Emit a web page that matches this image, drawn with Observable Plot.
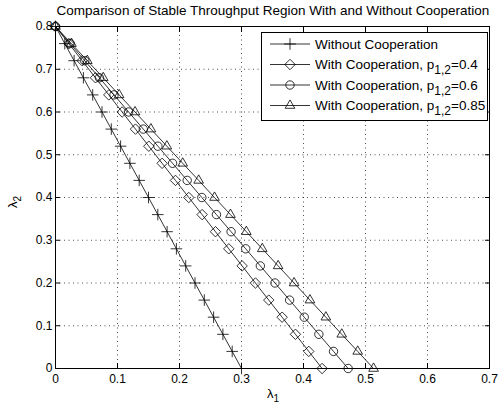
<!DOCTYPE html>
<html>
<head>
<meta charset="utf-8">
<script src="https://cdn.jsdelivr.net/npm/d3@7"></script>
<script src="https://cdn.jsdelivr.net/npm/@observablehq/plot@0.6"></script>
<style>
  html, body { margin: 0; padding: 0; background: white; }
  #chart { width: 499px; height: 412px; }
</style>
</head>
<body>
<div id="chart"></div>
<script>
// ---- data ----
const titleText = "Comparison of Stable Throughput Region With and Without Cooperation";
const seriesNames = [
  "Without Cooperation",
  "With Cooperation, p12=0.4",
  "With Cooperation, p12=0.6",
  "With Cooperation, p12=0.85"
];
const seriesValueLabels = ["", "0.4", "0.6", "0.85"];
const lambda2 = [0.80, 0.76, 0.72, 0.68, 0.64, 0.60, 0.56, 0.52, 0.48, 0.44, 0.40,
                 0.36, 0.32, 0.28, 0.24, 0.20, 0.16, 0.12, 0.08, 0.04, 0.00];
const lambda1NoCoop = [0.000, 0.015, 0.030, 0.045, 0.060, 0.075, 0.090, 0.105, 0.120, 0.135, 0.150,
                       0.165, 0.180, 0.195, 0.210, 0.225, 0.240, 0.255, 0.270, 0.285, 0.300];
const lambda1P04 = [0.000, 0.0215, 0.043, 0.0645, 0.086, 0.1075, 0.129, 0.1505, 0.172, 0.1935, 0.215,
                    0.2365, 0.258, 0.2795, 0.301, 0.3225, 0.344, 0.3655, 0.387, 0.4085, 0.430];
const lambda1P06 = [0.000, 0.0236, 0.0472, 0.0708, 0.0944, 0.118, 0.1416, 0.1652, 0.1888, 0.2124, 0.236,
                    0.2596, 0.2832, 0.3068, 0.3304, 0.354, 0.3776, 0.4012, 0.4248, 0.4484, 0.472];
const lambda1P085 = [0.000, 0.0257, 0.0513, 0.077, 0.1026, 0.1283, 0.1539, 0.1796, 0.2052, 0.2309, 0.2565,
                     0.2822, 0.3078, 0.3335, 0.3591, 0.3848, 0.4104, 0.4361, 0.4617, 0.4874, 0.513];
const xTicks = [0, 0.1, 0.2, 0.3, 0.4, 0.5, 0.6, 0.7];
const yTicks = [0, 0.1, 0.2, 0.3, 0.4, 0.5, 0.6, 0.7, 0.8];

// ---- build table ----
const seriesX = [lambda1NoCoop, lambda1P04, lambda1P06, lambda1P085];
const symbols = ["plus", "diamond2", "circle", "triangle2"];
const d3symbols = [d3.symbolPlus, d3.symbolDiamond2, d3.symbolCircle, d3.symbolTriangle2];
const radii = [3.8, 4.7, 4.2, 4.6];
const series = seriesX.map((xs, i) => xs.map((x, j) => ({x, y: lambda2[j], s: i})));

const FONT = "'Liberation Sans', Arial, Helvetica, sans-serif";
const fmt = d => d === 0 ? "0" : String(+d.toFixed(1));

const marks = [
  Plot.gridX(xTicks, {stroke: "black", strokeOpacity: 0.7, strokeDasharray: "1,3.5"}),
  Plot.gridY(yTicks, {stroke: "black", strokeOpacity: 0.7, strokeDasharray: "1,3.5"}),
  Plot.frame({stroke: "black", strokeWidth: 1}),
  Plot.axisX(xTicks, {anchor: "bottom", tickSize: -5, tickPadding: 11, tickFormat: fmt, fontSize: 12, label: null}),
  Plot.axisX(xTicks, {anchor: "top", tickSize: -5, tickFormat: () => "", label: null}),
  Plot.axisY(yTicks, {anchor: "left", tickSize: -5, tickPadding: 8, tickFormat: fmt, fontSize: 12, label: null}),
  Plot.axisY(yTicks, {anchor: "right", tickSize: -5, tickFormat: () => "", label: null})
];
series.forEach((d, i) => {
  marks.push(Plot.line(d, {x: "x", y: "y", stroke: "black", strokeWidth: 0.8}));
  marks.push(Plot.dot(d, {x: "x", y: "y", symbol: symbols[i], r: radii[i], stroke: "black", fill: "none", strokeWidth: 0.8}));
});

const chart = Plot.plot({
  width: 499,
  height: 412,
  marginLeft: 55,
  marginRight: 10,
  marginTop: 26,
  marginBottom: 44,
  x: {domain: [0, 0.7], label: null},
  y: {domain: [0, 0.8], label: null},
  style: {fontFamily: FONT, fontSize: "12px", background: "white", color: "black", overflow: "visible"},
  marks
});

const svg = d3.select(chart);
// title
svg.append("text").attr("x", 273).attr("y", 15).attr("text-anchor", "middle")
  .attr("font-family", FONT).attr("font-size", 13.5).attr("fill", "black").text(titleText);
// axis labels
const xl = svg.append("text").attr("x", 267).attr("y", 398).attr("text-anchor", "start")
  .attr("font-family", FONT).attr("font-size", 13).attr("fill", "black");
xl.append("tspan").text("λ");
xl.append("tspan").attr("dy", 4).attr("font-size", 10).text("1");
const yl = svg.append("text").attr("transform", "translate(17,202) rotate(-90)").attr("text-anchor", "middle")
  .attr("font-family", FONT).attr("font-size", 13).attr("fill", "black");
yl.append("tspan").text("λ");
yl.append("tspan").attr("dy", 4).attr("font-size", 10).text("2");

// legend
const lg = svg.append("g").attr("font-family", FONT).attr("font-size", 13.5).attr("fill", "black")
  .attr("text-anchor", "start");
lg.append("rect").attr("x", 261.5).attr("y", 32.5).attr("width", 226).attr("height", 88)
  .attr("fill", "white").attr("stroke", "black").attr("stroke-width", 1);
seriesNames.forEach((name, i) => {
  const y = 44 + i * 20.5;
  lg.append("line").attr("x1", 270).attr("x2", 310).attr("y1", y).attr("y2", y).attr("stroke", "black").attr("stroke-width", 0.8);
  lg.append("path").attr("d", d3.symbol(d3symbols[i], Math.PI * radii[i] * radii[i])())
    .attr("transform", `translate(290,${y})`).attr("fill", "none").attr("stroke", "black").attr("stroke-width", 0.8);
  const t = lg.append("text").attr("x", 315).attr("y", y + 4.5).attr("text-anchor", "start");
  if (i === 0) {
    t.text(name);
  } else {
    t.append("tspan").text("With Cooperation, p");
    t.append("tspan").attr("dy", 5).attr("font-size", 12).text("1,2");
    t.append("tspan").attr("dy", -5).text("=" + seriesValueLabels[i]);
  }
});

document.getElementById("chart").appendChild(chart);
</script>
</body>
</html>
